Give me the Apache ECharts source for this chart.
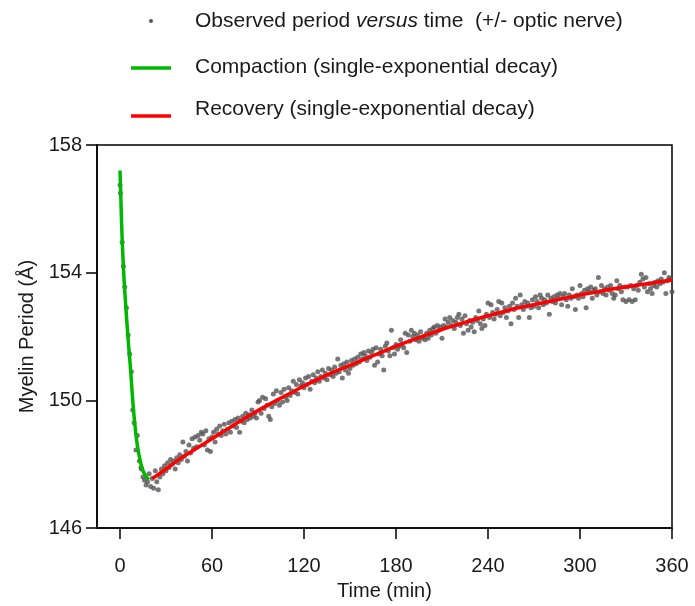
<!DOCTYPE html>
<html><head><meta charset="utf-8">
<script src="https://cdn.jsdelivr.net/npm/echarts@6/dist/echarts.min.js"></script>
<style>html,body{margin:0;padding:0;background:#fff}#c{width:695px;height:606px}</style>
</head><body><div id="c"></div><script>
const xTicks = [0, 60, 120, 180, 240, 300, 360];
const yTicks = [146, 150, 154, 158];
const legendLabels = ['{a|Observed period }{i|versus}{a| time  (+/- optic nerve)}', 'Compaction (single-exponential decay)', 'Recovery (single-exponential decay)'];

const observed = [
[0,156.75],[0.3,156.5],[1.4,154.95],[2.2,154.2],[3.1,153.55],[4.2,152.9],[5.3,152.05],[6.3,151.45],[7.4,150.9],[8.3,149.7],[9.2,149.3],[10.4,148.45],[11.3,148.9],[12.6,148.1],[13.7,147.9],
[14,147.85],[15,147.6],[16,147.5],[17,147.35],[18,147.45],[19,147.7],[20,147.3],[21,147.55],[22,147.25],[23,147.8],[24,147.45],[25,147.2],[26,147.6],[27,147.85],[28,147.7],[29,147.95],
[30,147.8],[31,148.05],[32,147.9],[33,148.15],[34,148.0],[35,148.1],[36,147.85],[37,148.2],[38,148.05],[39,148.3],
[40,148.15],[41,148.7],[42,148.25],[43,148.4],[44,148.1],[45,148.6],[46,148.35],[47,148.8],[48,148.5],[49,148.85],
[50,148.55],[51,148.9],[52,148.75],[53,149.0],[54,148.95],[55,148.6],[56,149.05],[57,148.45],[58,148.8],[59,148.4],
[60,148.85],[61,149.0],[62,148.7],[63,149.1],[64,148.95],[65,149.2],[66,148.9],[67,149.05],[68,149.25],[69,148.95],
[70,149.1],[71,149.3],[72,149.0],[73,149.35],[74,149.2],[75,149.4],[76,149.15],[77,149.45],[78,149.0],[79,149.35],
[80,149.5],[81,149.3],[82,149.6],[83,149.4],[84,149.55],[85,149.45],[86,149.7],[87,149.5],[88,149.6],[89,149.45],
[90,149.95],[91,150.0],[92,149.6],[93,150.1],[94,149.75],[95,150.05],[96,149.85],[97,149.5],[98,149.4],[99,149.8],
[100,150.2],[101,149.9],[102,150.3],[103,150.0],[104,149.85],[105,150.25],[106,149.95],[107,150.35],[108,150.1],[109,150.0],
[110,150.4],[111,150.15],[112,150.3],[113,150.6],[114,150.25],[115,150.5],[116,150.2],[117,150.65],[118,150.45],[119,150.55],
[120,150.4],[121,150.7],[122,150.5],[123,150.75],[124,150.35],[125,150.6],[126,150.8],[127,150.55],[128,150.7],[129,150.9],
[130,150.6],[131,150.75],[132,150.95],[133,150.7],[134,150.85],[135,150.65],[136,151.0],[137,150.8],[138,150.95],[139,150.75],
[140,151.05],[141,150.85],[142,151.3],[143,150.9],[144,151.1],[145,150.7],[146,151.15],[147,150.95],[148,151.2],[149,150.85],
[150,151.0],[151,151.25],[152,151.1],[153,151.3],[154,151.15],[155,151.35],[156,151.2],[157,151.45],[158,151.3],[159,151.5],
[160,151.4],[161,151.25],[162,151.55],[163,151.35],[164,151.5],[165,151.6],[166,151.1],[167,151.65],[168,151.2],[169,151.45],
[170,151.6],[171,151.4],[172,150.95],[173,151.7],[174,151.8],[175,151.55],[176,151.4],[177,152.2],[178,151.65],[179,151.45],
[180,151.75],[181,151.6],[182,151.7],[183,151.9],[184,151.75],[185,151.65],[186,152.1],[187,151.5],[188,152.05],[189,151.85],
[190,152.2],[191,152.0],[192,152.1],[193,151.9],[194,152.05],[195,151.85],[196,152.15],[197,151.95],[198,152.0],[199,151.9],
[200,152.1],[201,151.95],[202,152.2],[203,152.05],[204,152.25],[205,152.3],[206,152.1],[207,152.35],[208,152.2],[209,152.3],
[210,151.95],[211,152.35],[212,152.55],[213,152.3],[214,152.45],[215,152.6],[216,152.35],[217,152.5],[218,152.25],[219,152.45],
[220,152.6],[221,152.7],[222,152.35],[223,152.55],[224,152.1],[225,152.65],[226,152.4],[227,152.2],[228,152.5],[229,152.3],
[230,152.45],[231,152.15],[232,152.6],[233,152.5],[234,152.8],[235,152.4],[236,152.25],[237,152.55],[238,152.35],[239,152.7],
[240,153.05],[241,152.6],[242,153.0],[243,152.75],[244,152.55],[245,152.7],[246,152.85],[247,153.1],[248,152.65],[249,153.05],
[250,152.75],[251,152.9],[252,152.6],[253,152.8],[254,152.95],[255,152.4],[256,153.05],[257,152.85],[258,153.2],[259,152.95],
[260,152.6],[261,153.3],[262,153.0],[263,152.85],[264,153.1],[265,152.95],[266,153.05],[267,152.6],[268,152.9],[269,153.15],
[270,152.95],[271,153.25],[272,153.1],[273,152.9],[274,153.3],[275,153.2],[276,153.0],[277,153.15],[278,153.05],[279,153.3],
[280,152.7],[281,153.2],[282,153.1],[283,153.25],[284,153.05],[285,153.3],[286,153.2],[287,153.35],[288,153.0],[289,153.25],
[290,153.35],[291,153.15],[292,152.95],[293,153.3],[294,153.2],[295,153.5],[296,153.25],[297,152.85],[298,153.3],[299,153.2],
[300,153.6],[301,153.35],[302,153.25],[303,153.45],[304,152.9],[305,153.5],[306,153.4],[307,153.55],[308,153.2],[309,153.45],
[310,153.5],[311,153.3],[312,153.85],[313,153.4],[314,153.6],[315,153.35],[316,153.5],[317,153.3],[318,153.55],[319,153.45],
[320,153.6],[321,153.35],[322,153.2],[323,153.3],[324,153.75],[325,153.5],[326,153.6],[327,153.4],[328,153.15],[329,153.55],
[330,153.1],[331,153.55],[332,153.15],[333,153.6],[334,153.1],[335,153.5],[336,153.15],[337,153.6],[338,153.45],[339,153.7],
[340,153.95],[341,153.8],[342,153.55],[343,153.85],[344,153.4],[345,153.65],[346,153.5],[347,153.35],[348,153.6],[349,153.7],
[350,153.55],[351,153.75],[352,153.65],[353,153.8],[354,153.7],[355,154.0],[356,153.35],[357,153.75],[358,153.85],[359,153.8],[360,153.4]
];

const compactionFit = [
[0,157.2],[1,155.6],[2,154.4],[3,153.5],[4,152.8],[5,152.1],[6,151.5],[7,150.9],[8,150.2],[9,149.6],
[10,149.1],[11,148.7],[12,148.4],[13,148.15],[14,147.95],[15,147.8],[16,147.7],[17,147.62],[18,147.56],[18.7,147.52]
];

const recoveryFit = [
[21,147.55],[30,147.85],[40,148.2],[50,148.5],[60,148.8],[70,149.1],[80,149.4],[90,149.68],[100,149.95],
[110,150.2],[120,150.45],[130,150.68],[140,150.9],[150,151.1],[160,151.3],[170,151.5],[180,151.7],[190,151.88],
[200,152.05],[210,152.22],[220,152.37],[230,152.52],[240,152.65],[250,152.78],[260,152.9],[270,153.0],[280,153.1],
[290,153.2],[300,153.3],[310,153.39],[320,153.48],[330,153.56],[340,153.63],[350,153.7],[360,153.77]
];

const FONT = "'Liberation Sans', Arial, sans-serif";
const TXT = '#1a1a1a';
const chart = echarts.init(document.getElementById('c'), null, {renderer: 'canvas'});
chart.setOption({
  animation: false,
  backgroundColor: '#fff',
  textStyle: {fontFamily: FONT},
  grid: {left: 97, right: 23, top: 145, bottom: 77, show: true, borderColor: '#000', borderWidth: 1.5, backgroundColor: 'transparent'},
  xAxis: {
    type: 'value', min: -15, max: 360,
    name: 'Time (min)', nameLocation: 'middle', nameGap: 51,
    nameTextStyle: {fontSize: 20, color: TXT, fontFamily: FONT},
    axisLine: {show: true, onZero: false, lineStyle: {color: '#000', width: 1.5}},
    axisTick: {show: true, length: 11, lineStyle: {color: '#000', width: 1.5}, customValues: xTicks},
    axisLabel: {fontSize: 20, color: TXT, margin: 28, fontFamily: FONT, customValues: xTicks},
    splitLine: {show: false}
  },
  yAxis: {
    type: 'value', min: 146, max: 158,
    name: 'Myelin Period (Å)', nameLocation: 'middle', nameGap: 58, nameRotate: 90,
    nameTextStyle: {fontSize: 20, color: TXT, fontFamily: FONT},
    axisLine: {show: true, onZero: false, lineStyle: {color: '#000', width: 1.5}},
    axisTick: {show: true, length: 11, lineStyle: {color: '#000', width: 1.5}, customValues: yTicks},
    axisLabel: {fontSize: 20, color: TXT, margin: 15, fontFamily: FONT, customValues: yTicks},
    splitLine: {show: false}
  },
  graphic: [
    {type: 'circle', shape: {cx: 151, cy: 21, r: 2}, style: {fill: '#555'}},
    {type: 'text', x: 195, y: 21, style: {text: legendLabels[0], fill: TXT, font: '21px ' + FONT, verticalAlign: 'middle',
      rich: {a: {fontSize: 21, fontFamily: FONT, fill: TXT}, i: {fontSize: 21, fontFamily: FONT, fontStyle: 'italic', fill: TXT}}}},
    {type: 'line', shape: {x1: 131, y1: 68, x2: 171, y2: 68}, style: {stroke: '#00b800', lineWidth: 3.5}},
    {type: 'text', x: 195, y: 67, style: {text: legendLabels[1], fill: TXT, font: '21px ' + FONT, verticalAlign: 'middle'}},
    {type: 'line', shape: {x1: 131, y1: 116, x2: 171, y2: 116}, style: {stroke: '#ff0000', lineWidth: 3.5}},
    {type: 'text', x: 195, y: 109, style: {text: legendLabels[2], fill: TXT, font: '21px ' + FONT, verticalAlign: 'middle'}}
  ],
  series: [
    {type: 'scatter', data: observed, symbolSize: 5, itemStyle: {color: '#555'}, z: 2},
    {type: 'line', data: compactionFit, smooth: true, showSymbol: false, lineStyle: {color: '#00b800', width: 3.5}, z: 3},
    {type: 'line', data: recoveryFit, smooth: true, showSymbol: false, lineStyle: {color: '#ff0000', width: 3.5}, z: 3}
  ]
});
</script></body></html>
